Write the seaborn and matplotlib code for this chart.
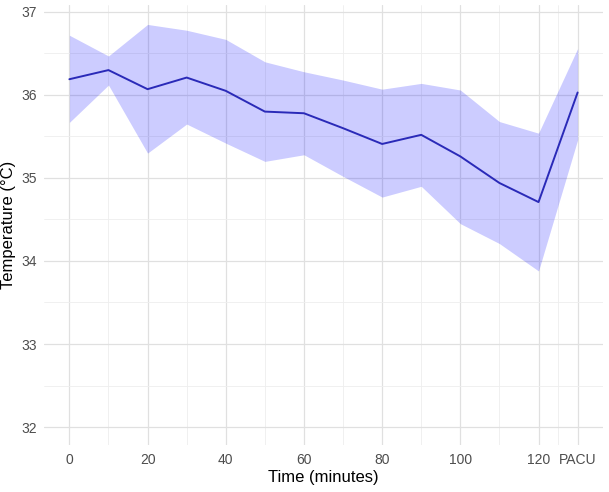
import matplotlib
matplotlib.use("Agg")
import numpy as np
import pandas as pd
import seaborn as sns
import matplotlib.pyplot as plt

# time points (PACU placed at 130 on the axis)
time_min = [0, 10, 20, 30, 40, 50, 60, 70, 80, 90, 100, 110, 120, 130]
temp_mean = [36.19, 36.30, 36.07, 36.21, 36.05, 35.80, 35.78, 35.60, 35.41, 35.52, 35.26, 34.94, 34.71, 36.03]
temp_upper = [36.72, 36.47, 36.85, 36.78, 36.67, 36.40, 36.28, 36.18, 36.07, 36.14, 36.06, 35.68, 35.54, 36.56]
temp_lower = [35.67, 36.12, 35.30, 35.65, 35.42, 35.20, 35.28, 35.02, 34.77, 34.90, 34.45, 34.21, 33.88, 35.46]
xtick_pos = [0, 20, 40, 60, 80, 100, 120, 130]
xtick_labels = ['0', '20', '40', '60', '80', '100', '120', 'PACU']

df = pd.DataFrame({'time': time_min, 'mean': temp_mean, 'lo': temp_lower, 'hi': temp_upper})

sns.set_theme(style='white')
plt.rcParams['font.family'] = ['Liberation Sans', 'DejaVu Sans']

fig = plt.figure(figsize=(6.09, 4.92), dpi=100)
ax = fig.add_axes([0.0722, 0.0955, 0.918, 0.8943])

ax.fill_between(df['time'], df['lo'], df['hi'], color='blue', alpha=0.2, linewidth=0, zorder=2)
sns.lineplot(data=df, x='time', y='mean', color='#2a2ab8', linewidth=1.4, ax=ax, zorder=3)

ax.set_xlim(-6.5, 136.5)
ax.set_ylim(31.783, 37.084)
ax.set_xticks(xtick_pos)
ax.set_xticklabels(xtick_labels)
ax.set_xticks([10, 30, 50, 70, 90, 110, 125], minor=True)
ax.set_yticks([32, 33, 34, 35, 36, 37])
ax.set_yticks([32.5, 33.5, 34.5, 35.5, 36.5], minor=True)

ax.grid(which='major', color='#e0e0e0', linewidth=0.9, zorder=0)
ax.grid(which='minor', color='#eeeeee', linewidth=0.6, zorder=0)
ax.set_axisbelow(True)
for s in ax.spines.values():
    s.set_visible(False)
ax.tick_params(which='both', length=0)
ax.tick_params(axis='x', pad=6, labelsize=10, labelcolor='#4d4d4d')
ax.tick_params(axis='y', pad=5, labelsize=10, labelcolor='#4d4d4d')

ax.set_xlabel('Time (minutes)', fontsize=12, color='black', labelpad=2)
ax.set_ylabel('Temperature (°C)', fontsize=12, color='black', labelpad=4)

plt.savefig('out.png', dpi=100)
